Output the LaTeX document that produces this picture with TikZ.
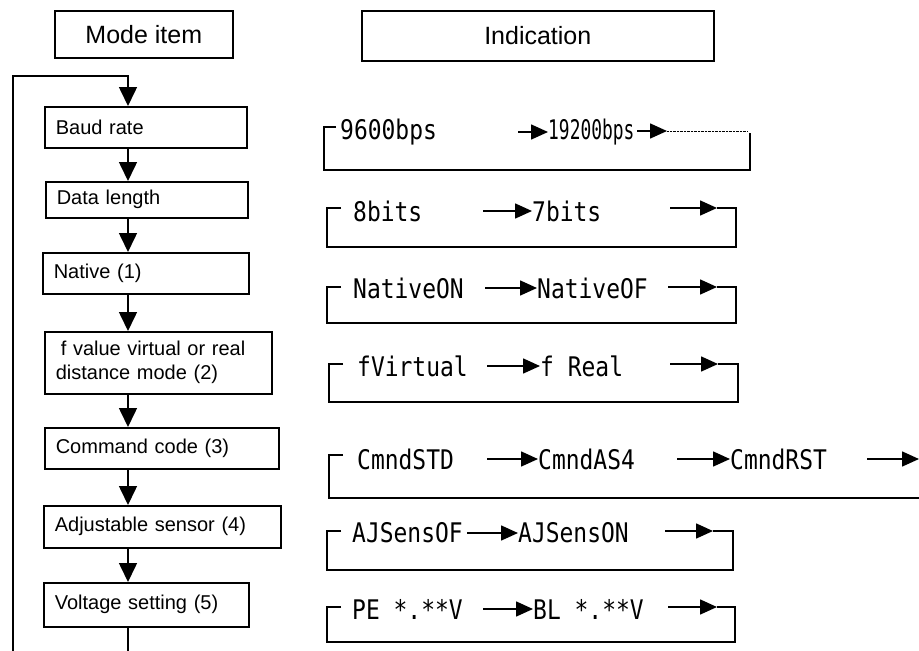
\documentclass[tikz,border=0pt]{standalone}
\usepackage{fontspec}
\setmainfont{Liberation Sans}
\newfontfamily\lcdfont[FakeStretch=0.85]{DejaVu Sans Mono}
\usetikzlibrary{arrows.meta}

\begin{document}
\begin{tikzpicture}[
    x=1pt, y=-1pt,
    hdr/.style={rectangle, draw, line width=1.6pt, anchor=north west,
        font=\fontsize{25}{25}\selectfont},
    modebox/.style={rectangle, draw, line width=1.6pt, anchor=north west, text width=#1,
        align=left, inner xsep=11pt, inner ysep=0pt, font=\fontsize{20}{24}\selectfont},
    ind/.style={anchor=west, inner sep=0pt, font=\lcdfont\fontsize{27}{27}\selectfont},
    frame/.style={line width=1.6pt},
    flow/.style={-{Triangle[length=19pt,width=18pt]}, line width=1.6pt},
    nxt/.style={-{Triangle[length=17pt,width=15pt]}, line width=1.6pt}
]
\useasboundingbox (0,0) rectangle (919,651);

% headers
\node[hdr, minimum width=178pt, minimum height=47pt] (mode) at (54,10) {Mode item};
\node[hdr, minimum width=352pt, minimum height=50pt] (indic) at (361,10) {Indication};

% mode items
\coordinate (spine) at (128,76);
\coordinate (loopend) at (13,651);
\node[modebox=180pt, minimum height=41pt] (baud) at (44,106) {Baud rate};
\node[modebox=180pt, minimum height=36pt] (datalen) at (45,181) {Data length};
\node[modebox=184pt, minimum height=41pt] (native) at (42,252) {Native (1)};
\node[modebox=205pt, minimum height=62pt] (fval) at (44,331) {\hspace{5pt}f value virtual or real\\distance mode (2)};
\node[modebox=212pt, minimum height=41pt] (cmd) at (44,427) {Command code (3)};
\node[modebox=215pt, minimum height=42pt] (adj) at (43,505) {Adjustable sensor (4)};
\node[modebox=183pt, minimum height=44pt] (volt) at (43,582) {Voltage setting (5)};

\draw[flow] (loopend) |- (spine) -- (baud.north -| spine);
\draw[flow] (baud.south -| spine) -- (datalen.north -| spine);
\draw[flow] (datalen.south -| spine) -- (native.north -| spine);
\draw[flow] (native.south -| spine) -- (fval.north -| spine);
\draw[flow] (fval.south -| spine) -- (cmd.north -| spine);
\draw[flow] (cmd.south -| spine) -- (adj.north -| spine);
\draw[flow] (adj.south -| spine) -- (volt.north -| spine);
\draw[frame] (volt.south -| spine) -- (spine |- loopend);

% baud rate
\node[ind] (r1a) at (340,132) {9600bps};
\node[ind] (r1b) at (548,132) {\scalebox{0.78}[1]{19200bps}};
\coordinate (r1e) at (667,131);
\draw[nxt] ([xshift=-30pt]r1b.west) -- (r1b.west);
\draw[nxt] ([xshift=-30pt]r1e) -- (r1e);
\draw[densely dotted, thin] (r1e) -- (747,131);
\draw[frame] (336,127) -- (324,127) -- (324,170) -- (750,170) -- (750,133);

% data length
\node[ind] (r2a) at (353,211) {8bits};
\node[ind] (r2b) at (532,211) {7bits};
\coordinate (r2e) at (717,208);
\draw[nxt] ([xshift=-49pt]r2b.west) -- (r2b.west);
\draw[nxt] ([xshift=-47pt]r2e) -- (r2e);
\draw[frame] (341,208) -- (327,208) -- (327,247) -- (736,247) -- (736,208) -- (r2e);

% native
\node[ind] (r3a) at (353,288) {NativeON};
\node[ind] (r3b) at (537,288) {NativeOF};
\coordinate (r3e) at (717,287);
\draw[nxt] ([xshift=-52pt]r3b.west) -- (r3b.west);
\draw[nxt] ([xshift=-49pt]r3e) -- (r3e);
\draw[frame] (341,287) -- (327,287) -- (327,323) -- (736,323) -- (736,287) -- (r3e);

% f value
\node[ind] (r4a) at (357,366) {fVirtual};
\node[ind] (r4b) at (540,366) {f Real};
\coordinate (r4e) at (718,364);
\draw[nxt] ([xshift=-53pt]r4b.west) -- (r4b.west);
\draw[nxt] ([xshift=-48pt]r4e) -- (r4e);
\draw[frame] (343,364) -- (329,364) -- (329,402) -- (738,402) -- (738,364) -- (r4e);

% command code
\node[ind] (r5a) at (357,459) {CmndSTD};
\node[ind] (r5b) at (538,459) {CmndAS4};
\node[ind] (r5c) at (730,459) {CmndRST};
\coordinate (r5e) at (919,459);
\draw[nxt] ([xshift=-51pt]r5b.west) -- (r5b.west);
\draw[nxt] ([xshift=-53pt]r5c.west) -- (r5c.west);
\draw[nxt] ([xshift=-52pt]r5e) -- (r5e);
\draw[frame] (343,455) -- (329,455) -- (329,498) -- (919,498);

% adjustable sensor
\node[ind] (r6a) at (352,533) {AJSensOF};
\node[ind] (r6b) at (518,533) {AJSensON};
\coordinate (r6e) at (713,531);
\draw[nxt] ([xshift=-51pt]r6b.west) -- (r6b.west);
\draw[nxt] ([xshift=-48pt]r6e) -- (r6e);
\draw[frame] (341,531) -- (327,531) -- (327,570) -- (733,570) -- (733,531) -- (r6e);

% voltage setting
\node[ind] (r7a) at (352,609) {PE *.**V};
\node[ind] (r7b) at (533,609) {BL *.**V};
\coordinate (r7e) at (717,607);
\draw[nxt] ([xshift=-50pt]r7b.west) -- (r7b.west);
\draw[nxt] ([xshift=-49pt]r7e) -- (r7e);
\draw[frame] (341,607) -- (327,607) -- (327,642) -- (735,642) -- (735,607) -- (r7e);
\end{tikzpicture}
\end{document}
